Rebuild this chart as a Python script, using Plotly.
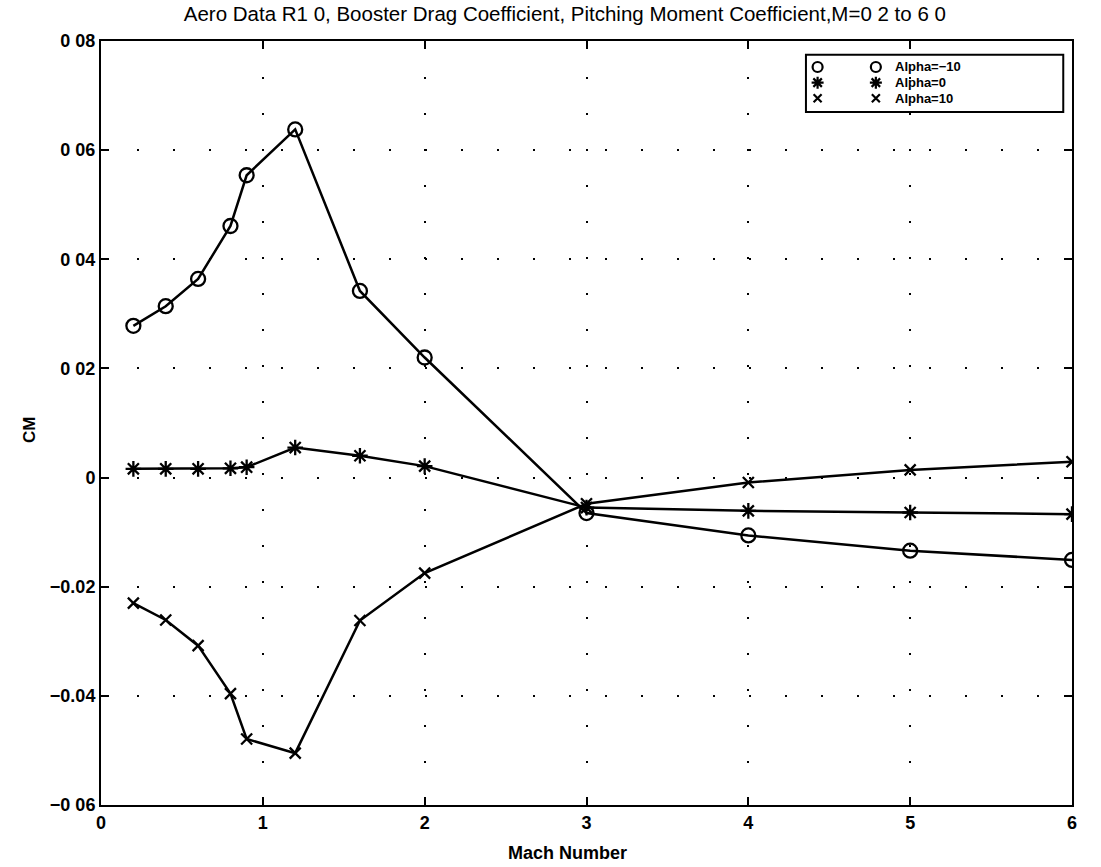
import plotly.graph_objects as go

# Booster pitching moment coefficient vs Mach number
mach = [0.2, 0.4, 0.6, 0.8, 0.9, 1.2, 1.6, 2.0, 3.0, 4.0, 5.0, 6.0]
cm_alpha_m10 = [0.0278, 0.0314, 0.0364, 0.0461, 0.0554, 0.0638, 0.0342, 0.0220,
                -0.0065, -0.0106, -0.0134, -0.0151]
cm_alpha_0 = [0.0016, 0.0016, 0.0016, 0.0017, 0.0019, 0.0055, 0.0040, 0.0021,
              -0.0055, -0.0061, -0.0064, -0.0067]
cm_alpha_p10 = [-0.0230, -0.0261, -0.0308, -0.0396, -0.0479, -0.0505, -0.0262, -0.0175,
                -0.0048, -0.0009, 0.0014, 0.0029]

series_names = ["Alpha=−10", "Alpha=0", "Alpha=10"]
series_symbols = ["circle-open", "asterisk-open", "x-thin-open"]

x_ticks = [0, 1, 2, 3, 4, 5, 6]
y_ticks = [-0.06, -0.04, -0.02, 0, 0.02, 0.04, 0.06, 0.08]
y_ticktext = ["−0 06", "−0.04", "−0.02", "0", "0 02", "0 04", "0 06", "0 08"]

FONT = "Liberation Sans, Arial, Helvetica, sans-serif"
INK = "#000000"

fig = go.Figure()

marker_sizes = {"circle-open": 14, "asterisk-open": 13, "x-thin-open": 11}
for ys, sym in zip([cm_alpha_m10, cm_alpha_0, cm_alpha_p10], series_symbols):
    fig.add_trace(go.Scatter(
        x=mach, y=ys, mode="lines+markers",
        line=dict(color=INK, width=2.5),
        marker=dict(symbol=sym, size=marker_sizes[sym], color=INK,
                    line=dict(color=INK, width=2.3)),
        showlegend=False,
    ))

# Boxed legend drawn on an overlay axis spanning the plot area (0..1)
leg_rows = [0.966, 0.9455, 0.925]
leg_cols = [0.738, 0.798]
for name, sym, yr in zip(series_names, series_symbols, leg_rows):
    fig.add_trace(go.Scatter(
        x=leg_cols, y=[yr, yr], mode="markers", xaxis="x2", yaxis="y2",
        marker=dict(symbol=sym, size=10 if sym != "x-thin-open" else 8, color=INK,
                    line=dict(color=INK, width=2.2)),
        showlegend=False, hoverinfo="skip", cliponaxis=False,
    ))
    fig.add_annotation(x=0.816, y=yr, xref="x2", yref="y2", text=name,
                       showarrow=False, xanchor="left", yanchor="middle",
                       font=dict(family=FONT, size=13, color=INK, weight="bold"))

fig.add_shape(type="rect", xref="x2", yref="y2", x0=0.726, x1=0.991, y0=0.907, y1=0.982,
              line=dict(color=INK, width=2), fillcolor="white", layer="below")

# Axis captions
fig.add_annotation(x=0.48, y=-0.063, xref="paper", yref="paper", text="Mach Number",
                   showarrow=False, xanchor="center", yanchor="middle",
                   font=dict(family=FONT, size=18, color=INK, weight="bold"))
fig.add_annotation(x=-0.073, y=0.491, xref="paper", yref="paper", text="CM",
                   showarrow=False, textangle=-90, xanchor="center", yanchor="middle",
                   font=dict(family=FONT, size=17, color=INK, weight="bold"))

axis_common = dict(
    showline=True, linecolor=INK, linewidth=2, mirror="ticks",
    ticks="inside", ticklen=8, tickwidth=2, tickcolor=INK,
    showgrid=True, gridcolor=INK, gridwidth=1.6, griddash="2px,34px",
    zeroline=False,
    tickfont=dict(family=FONT, size=18, color=INK, weight="bold"),
)

fig.update_layout(
    width=1101, height=867,
    margin=dict(l=101, r=29, t=41, b=62),
    paper_bgcolor="white", plot_bgcolor="white",
    title=dict(text="Aero Data R1 0, Booster Drag Coefficient, Pitching Moment Coefficient,M=0 2 to 6 0",
               x=0.513, xanchor="center", y=0.984, yanchor="middle",
               font=dict(family=FONT, size=20.5, color=INK)),
    xaxis=dict(range=[0, 6], tickvals=x_ticks, **axis_common),
    yaxis=dict(range=[-0.06, 0.08], tickvals=y_ticks, ticktext=y_ticktext, **axis_common),
    xaxis2=dict(overlaying="x", range=[0, 1], visible=False, fixedrange=True),
    yaxis2=dict(overlaying="y", range=[0, 1], visible=False, fixedrange=True),
    showlegend=False,
)

fig.write_html("out.html")
